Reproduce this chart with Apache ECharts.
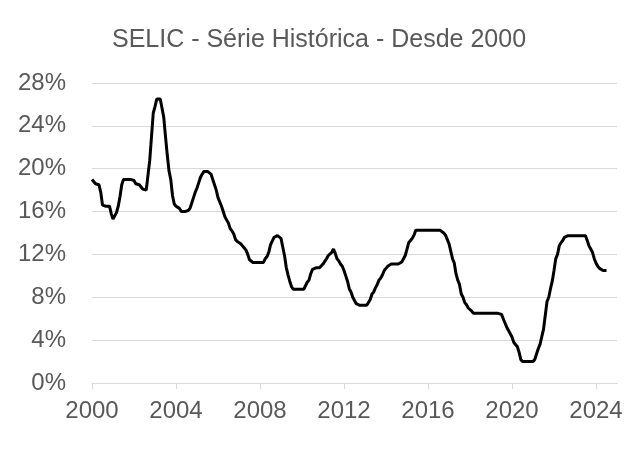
<!DOCTYPE html>
<html>
<head>
<meta charset="utf-8">
<script src="https://cdn.jsdelivr.net/npm/echarts@6/dist/echarts.min.js"></script>
<style>
    html, body { margin: 0; padding: 0; background: #ffffff; }
    #chart { width: 638px; height: 450px; }
</style>
</head>
<body>
<div id="chart"></div>
<script>
// SELIC mensal (% a.a.), jan/2000 em diante
const anoInicial = 2000;
const selicMensal = [
    19.0, 19.0, 18.6, 18.5, 18.5, 17.8, 16.6, 16.5, 16.5, 16.5, 16.5, 15.8,   // 2000
    15.3, 15.4, 15.9, 16.5, 17.4, 18.5, 19.0, 19.0, 19.0, 19.0, 19.0, 19.0,   // 2001
    18.9, 18.6, 18.5, 18.5, 18.4, 18.1, 18.0, 18.0, 18.0, 20.8, 23.0, 25.2,   // 2002
    25.8, 26.5, 26.5, 26.5, 26.5, 24.8, 23.0, 21.3, 19.8, 19.0, 17.5, 16.7,   // 2003
    16.5, 16.5, 16.3, 16.0, 16.0, 16.0, 16.0, 16.1, 16.3, 16.8, 17.3, 17.8,   // 2004
    18.2, 18.7, 19.2, 19.5, 19.75, 19.75, 19.75, 19.75, 19.5, 19.0, 18.5, 18.0, // 2005
    17.3, 17.2, 16.5, 16.0, 15.5, 15.2, 14.9, 14.4, 14.2, 13.9, 13.4, 13.2,   // 2006
    13.1, 13.0, 12.8, 12.6, 12.4, 12.0, 11.5, 11.4, 11.25, 11.25, 11.25, 11.25, // 2007
    11.25, 11.25, 11.25, 11.6, 11.8, 12.2, 12.9, 13.0, 13.6, 13.75, 13.75, 13.75, // 2008
    13.5, 12.7, 11.9, 10.8, 10.1, 9.5, 9.0, 8.75, 8.75, 8.75, 8.75, 8.75,     // 2009
    8.75, 8.75, 8.8, 9.4, 9.6, 10.2, 10.6, 10.75, 10.75, 10.75, 10.75, 10.75, // 2010
    11.1, 11.25, 11.6, 11.9, 12.0, 12.2, 12.5, 12.1, 11.6, 11.4, 11.1, 10.9,  // 2011
    10.5, 10.0, 9.5, 8.8, 8.5, 8.0, 7.7, 7.4, 7.3, 7.25, 7.25, 7.25,          // 2012
    7.25, 7.25, 7.4, 7.8, 8.3, 8.5, 8.9, 9.2, 9.6, 9.8, 10.1, 10.5,           // 2013
    10.7, 10.9, 11.0, 11.1, 11.1, 11.1, 11.1, 11.1, 11.1, 11.3, 11.6, 11.9,   // 2014
    12.5, 13.1, 13.3, 13.5, 13.8, 14.25, 14.25, 14.25, 14.25, 14.25, 14.25, 14.25, // 2015
    14.25, 14.25, 14.25, 14.25, 14.25, 14.25, 14.25, 14.25, 14.25, 14.0, 13.8, 13.4, // 2016
    13.0, 12.3, 11.6, 11.2, 10.2, 9.6, 9.2, 8.3, 8.0, 7.5, 7.3, 7.0,          // 2017
    6.9, 6.7, 6.5, 6.5, 6.5, 6.5, 6.5, 6.5, 6.5, 6.5, 6.5, 6.5,               // 2018
    6.5, 6.5, 6.5, 6.5, 6.5, 6.5, 6.4, 6.0, 5.6, 5.2, 4.9, 4.6,               // 2019
    4.3, 3.8, 3.6, 3.4, 2.9, 2.2, 2.0, 2.0, 2.0, 2.0, 2.0, 2.0,               // 2020
    2.0, 2.2, 2.7, 3.2, 3.6, 4.3, 5.0, 6.3, 7.6, 8.0, 8.8, 9.5,               // 2021
    10.5, 11.6, 12.0, 12.8, 13.1, 13.3, 13.6, 13.75, 13.75, 13.75, 13.75, 13.75, // 2022
    13.75, 13.75, 13.75, 13.75, 13.75, 13.75, 13.75, 13.3, 12.8, 12.5, 12.2, 11.6, // 2023
    11.2, 10.9, 10.7, 10.6, 10.5, 10.5, 10.5                                  // 2024
];
const anosEixo = [2000, 2004, 2008, 2012, 2016, 2020, 2024];
const titulo = 'SELIC - Série Histórica - Desde 2000';

const pontos = selicMensal.map((v, i) => [anoInicial + i / 12, v]);

const myChart = echarts.init(document.getElementById('chart'));
myChart.setOption({
    animation: false,
    title: {
        text: titulo,
        left: 'center',
        top: 23,
        textStyle: {
            fontFamily: 'Liberation Sans',
            fontSize: 25,
            fontWeight: 'normal',
            color: '#595959'
        }
    },
    grid: {
        left: 92,
        right: 21,
        top: 83,
        bottom: 67
    },
    xAxis: {
        type: 'value',
        min: 2000,
        max: 2025,
        axisLine: { show: true, lineStyle: { color: '#d9d9d9', width: 1 } },
        axisTick: { show: true, length: 6, customValues: anosEixo, lineStyle: { color: '#d9d9d9' } },
        axisLabel: {
            customValues: anosEixo,
            formatter: v => String(v),
            margin: 16,
            fontFamily: 'Liberation Sans',
            fontSize: 24,
            color: '#595959'
        },
        splitLine: { show: false }
    },
    yAxis: {
        type: 'value',
        min: 0,
        max: 28,
        interval: 4,
        axisLine: { show: false },
        axisTick: { show: false },
        axisLabel: {
            formatter: '{value}%',
            margin: 26,
            fontFamily: 'Liberation Sans',
            fontSize: 24,
            color: '#595959'
        },
        splitLine: { lineStyle: { color: '#d9d9d9', width: 1 } }
    },
    series: [
        {
            name: 'SELIC',
            type: 'line',
            data: pontos,
            symbol: 'none',
            lineStyle: { color: '#000000', width: 3 }
        }
    ]
});
</script>
</body>
</html>
